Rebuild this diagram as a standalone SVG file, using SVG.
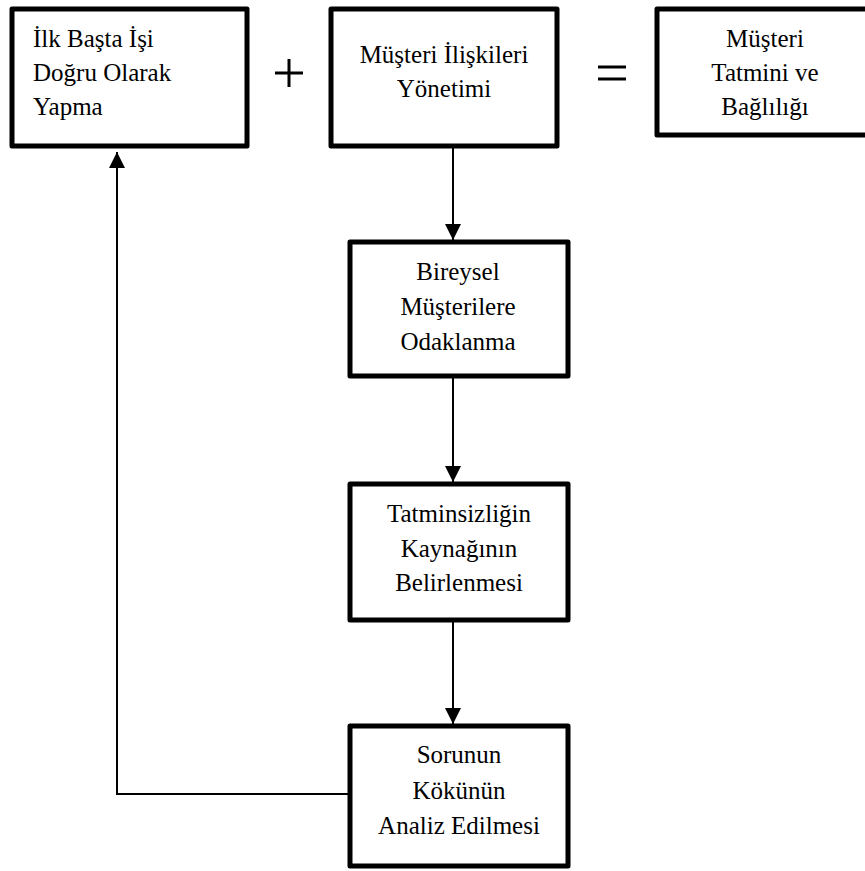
<svg xmlns="http://www.w3.org/2000/svg" width="865" height="871" viewBox="0 0 865 871">
  <style>
    .box { fill: #ffffff; stroke: #000000; stroke-width: 5; stroke-linejoin: round; }
    .wire { fill: none; stroke: #000000; stroke-width: 2; }
    .sym { stroke: #000000; stroke-width: 3; fill: none; }
    text { font-size: 25px; fill: #000000; }
  </style>
  <defs>
    <marker id="head" viewBox="0 0 16 16" refX="16" refY="8" markerWidth="16" markerHeight="16" markerUnits="userSpaceOnUse" orient="auto">
      <path d="M0,0 L16,8 L0,16 Z" fill="#000000"/>
    </marker>
  </defs>
  <rect width="865" height="871" fill="#ffffff"/>

  <g id="connectors">
    <line class="wire" x1="453" y1="148" x2="453" y2="240" marker-end="url(#head)"/>
    <line class="wire" x1="453" y1="378" x2="453" y2="482" marker-end="url(#head)"/>
    <line class="wire" x1="453" y1="622" x2="453" y2="724" marker-end="url(#head)"/>
    <polyline class="wire" points="348,794 117,794 117,152" marker-end="url(#head)"/>
  </g>

  <g id="plus">
    <line class="sym" x1="275" y1="73" x2="303" y2="73"/>
    <line class="sym" x1="289" y1="59" x2="289" y2="87"/>
  </g>
  <g id="equals">
    <line class="sym" x1="598" y1="67" x2="626" y2="67"/>
    <line class="sym" x1="598" y1="79" x2="626" y2="79"/>
  </g>

  <g id="node-ilk-basta" font-family="Liberation Serif, serif">
    <rect class="box" x="12" y="9" width="235" height="137"/>
    <text x="33" y="47">İlk Başta İşi</text>
    <text x="33" y="81">Doğru Olarak</text>
    <text x="33" y="115">Yapma</text>
  </g>

  <g id="node-mly" font-family="Liberation Serif, serif" text-anchor="middle">
    <rect class="box" x="331" y="9" width="226" height="137"/>
    <text x="444" y="63">Müşteri İlişkileri</text>
    <text x="444" y="97">Yönetimi</text>
  </g>

  <g id="node-tatmin" font-family="Liberation Serif, serif" text-anchor="middle">
    <rect class="box" x="657" y="9" width="220" height="126"/>
    <text x="765" y="47">Müşteri</text>
    <text x="765" y="81">Tatmini ve</text>
    <text x="765" y="115">Bağlılığı</text>
  </g>

  <g id="node-bireysel" font-family="Liberation Serif, serif" text-anchor="middle">
    <rect class="box" x="350" y="242" width="218" height="134"/>
    <text x="458" y="280">Bireysel</text>
    <text x="458" y="315">Müşterilere</text>
    <text x="458" y="350">Odaklanma</text>
  </g>

  <g id="node-kaynak" font-family="Liberation Serif, serif" text-anchor="middle">
    <rect class="box" x="350" y="484" width="218" height="136"/>
    <text x="459" y="522">Tatminsizliğin</text>
    <text x="459" y="557">Kaynağının</text>
    <text x="459" y="591">Belirlenmesi</text>
  </g>

  <g id="node-analiz" font-family="Liberation Serif, serif" text-anchor="middle">
    <rect class="box" x="350" y="726" width="218" height="140"/>
    <text x="459" y="763">Sorunun</text>
    <text x="459" y="799">Kökünün</text>
    <text x="459" y="834">Analiz Edilmesi</text>
  </g>
</svg>
